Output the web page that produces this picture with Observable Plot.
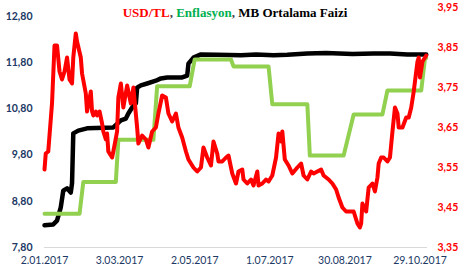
<!DOCTYPE html>
<html><head><meta charset="utf-8">
<script src="https://cdn.jsdelivr.net/npm/d3@7"></script>
<script src="https://cdn.jsdelivr.net/npm/@observablehq/plot@0.6"></script>
<style>
body{margin:0;background:#fff;}
#wrap{position:relative;width:465px;height:280px;}
#title{position:absolute;top:6px;left:0;width:470px;text-align:center;font-family:"Liberation Serif",serif;font-weight:bold;font-size:13px;line-height:13px;color:#000;white-space:nowrap;}
</style></head><body>
<div id="wrap"><div id="title"><span style="color:#ff0000">USD/TL</span><span style="color:#404040">, </span><span style="color:#00b050">Enflasyon</span><span style="color:#404040">, </span>MB Ortalama Faizi</div></div>
<script>
// USD/TL (right axis)
const usdDates = ["2017-01-02","2017-01-03","2017-01-05","2017-01-08","2017-01-10","2017-01-12","2017-01-14","2017-01-16","2017-01-18","2017-01-20","2017-01-22","2017-01-24","2017-01-25","2017-01-27","2017-01-28","2017-01-31","2017-02-01","2017-02-04","2017-02-05","2017-02-08","2017-02-09","2017-02-10","2017-02-12","2017-02-13","2017-02-15","2017-02-17","2017-02-18","2017-02-20","2017-02-21","2017-02-22","2017-02-25","2017-02-26","2017-03-01","2017-03-02","2017-03-04","2017-03-06","2017-03-09","2017-03-12","2017-03-14","2017-03-17","2017-03-18","2017-03-21","2017-03-24","2017-03-26","2017-03-29","2017-04-01","2017-04-03","2017-04-06","2017-04-09","2017-04-11","2017-04-14","2017-04-17","2017-04-19","2017-04-22","2017-04-25","2017-04-27","2017-05-01","2017-05-04","2017-05-07","2017-05-09","2017-05-12","2017-05-15","2017-05-17","2017-05-20","2017-05-21","2017-05-24","2017-05-27","2017-05-29","2017-06-01","2017-06-04","2017-06-06","2017-06-09","2017-06-10","2017-06-13","2017-06-16","2017-06-18","2017-06-21","2017-06-22","2017-06-25","2017-06-28","2017-06-30","2017-07-03","2017-07-06","2017-07-08","2017-07-10","2017-07-11","2017-07-13","2017-07-16","2017-07-19","2017-07-23","2017-07-26","2017-07-28","2017-07-31","2017-08-03","2017-08-05","2017-08-08","2017-08-11","2017-08-13","2017-08-17","2017-08-20","2017-08-23","2017-08-25","2017-08-28","2017-08-31","2017-09-06","2017-09-09","2017-09-11","2017-09-12","2017-09-13","2017-09-16","2017-09-18","2017-09-21","2017-09-23","2017-09-25","2017-09-26","2017-09-28","2017-09-30","2017-10-03","2017-10-05","2017-10-07","2017-10-09","2017-10-11","2017-10-12","2017-10-15","2017-10-18","2017-10-20","2017-10-22","2017-10-24","2017-10-27","2017-10-28","2017-10-29","2017-10-31","2017-11-03"];
const usdValues = [3.545,3.585,3.59,3.71,3.855,3.855,3.79,3.77,3.79,3.825,3.77,3.76,3.825,3.885,3.865,3.825,3.785,3.735,3.69,3.74,3.69,3.68,3.69,3.68,3.69,3.66,3.64,3.62,3.635,3.59,3.575,3.59,3.64,3.725,3.76,3.70,3.755,3.71,3.75,3.65,3.61,3.63,3.62,3.60,3.64,3.65,3.685,3.73,3.725,3.685,3.665,3.685,3.65,3.625,3.59,3.57,3.55,3.54,3.55,3.60,3.575,3.555,3.615,3.585,3.565,3.565,3.575,3.58,3.535,3.51,3.54,3.545,3.52,3.51,3.52,3.505,3.54,3.505,3.51,3.52,3.515,3.53,3.575,3.635,3.615,3.64,3.57,3.555,3.535,3.55,3.56,3.53,3.52,3.54,3.535,3.54,3.545,3.53,3.52,3.51,3.495,3.475,3.45,3.44,3.44,3.41,3.40,3.41,3.46,3.44,3.50,3.51,3.49,3.525,3.56,3.575,3.575,3.565,3.575,3.64,3.70,3.685,3.65,3.65,3.675,3.675,3.70,3.74,3.815,3.825,3.775,3.815,3.83];

// MB Ortalama Faizi (left axis)
const faizDates = ["2017-01-02","2017-01-09","2017-01-12","2017-01-15","2017-01-17","2017-01-20","2017-01-23","2017-01-24","2017-01-25","2017-01-29","2017-02-05","2017-02-26","2017-03-04","2017-03-08","2017-03-10","2017-03-13","2017-03-16","2017-03-17","2017-03-20","2017-03-25","2017-04-01","2017-04-05","2017-04-10","2017-04-22","2017-04-26","2017-04-27","2017-05-01","2017-05-07","2017-05-20","2017-06-08","2017-06-20","2017-07-04","2017-07-15","2017-07-31","2017-08-15","2017-09-05","2017-09-22","2017-10-05","2017-10-19","2017-11-03"];
const faizValues = [8.28,8.30,8.38,8.67,9.03,9.08,8.99,9.19,10.27,10.33,10.38,10.40,10.55,10.59,10.70,10.83,10.92,11.26,11.31,11.35,11.41,11.46,11.48,11.48,11.52,11.78,11.91,11.98,11.97,11.96,11.98,11.96,11.97,12.00,12.01,11.99,12.00,12.00,11.98,11.98];

// Enflasyon (left axis)
const enfDates = ["2017-01-02","2017-01-30","2017-02-02","2017-02-28","2017-03-02","2017-03-30","2017-04-02","2017-04-28","2017-05-02","2017-05-31","2017-06-02","2017-06-30","2017-07-03","2017-07-31","2017-08-02","2017-08-29","2017-09-06","2017-09-29","2017-10-03","2017-10-30","2017-11-02","2017-11-03"];
const enfValues = [8.53,8.53,9.22,9.22,10.13,10.13,11.29,11.29,11.87,11.87,11.72,11.72,10.90,10.90,9.79,9.79,10.68,10.68,11.20,11.20,11.90,11.90];

// Tick labels
const xTickDates = ["2017-01-02","2017-03-03","2017-05-02","2017-07-01","2017-08-30","2017-10-29"];
const leftTicks = [7.8,8.8,9.8,10.8,11.8,12.8];
const rightTicks = [3.35,3.45,3.55,3.65,3.75,3.85,3.95];

const parse = d3.utcParse("%Y-%m-%d");
const usd = usdDates.map((d,i)=>({date:parse(d), v:usdValues[i]}));
const faiz = faizDates.map((d,i)=>({date:parse(d), v:faizValues[i]}));
const enf = enfDates.map((d,i)=>({date:parse(d), v:enfValues[i]}));

// right axis mapped onto left-axis units (frame geometry)
const L0 = 7.8, L1 = 12.8, R0 = 3.35, R1 = 3.95;
const yBottom = 247, yTop = 16, yRightTop = 7;
const k = (L1 - L0) / (yBottom - yTop) * (yBottom - yRightTop) / (R1 - R0);
const toLeft = r => L0 + (r - R0) * k;
const comma = d => d.toFixed(2).replace(".", ",");

const chart = Plot.plot({
  width: 465, height: 280,
  marginLeft: 44, marginRight: 38, marginTop: yTop, marginBottom: 280 - yBottom,
  x: {type: "utc", domain: [parse("2017-01-02"), parse("2017-11-04")]},
  y: {domain: [L0, L1]},
  style: {fontFamily: "Lato, sans-serif", background: "white", overflow: "visible"},
  marks: [
    Plot.ruleY([L0], {stroke: "#d9d9d9", strokeWidth: 1}),
    Plot.axisX({ticks: xTickDates.map(parse), tickFormat: d3.utcFormat("%-d.%m.%Y"), tickSize: 0, tickPadding: 9, fill: "#203864", fontSize: 10.5, label: null}),
    Plot.axisY({ticks: leftTicks, tickFormat: comma, tickSize: 0, tickPadding: 12, fill: "#203864", fontWeight: "bold", fontSize: 10.5, label: null}),
    Plot.text(rightTicks, {y: d => toLeft(d), text: d => comma(d), frameAnchor: "right", textAnchor: "start", dx: 10, fill: "#ff0000", fontWeight: "bold", fontSize: 10.5}),
    Plot.line(faiz, {x: "date", y: "v", stroke: "#000000", strokeWidth: 4.5, strokeLinejoin: "round"}),
    Plot.line(enf, {x: "date", y: "v", stroke: "#92d050", strokeWidth: 4, strokeLinejoin: "round"}),
    Plot.line(usd, {x: "date", y: d => toLeft(d.v), stroke: "#ff0000", strokeWidth: 4, strokeLinejoin: "round"})
  ]
});
document.getElementById("wrap").insertBefore(chart, document.getElementById("title"));
</script>
</body></html>
